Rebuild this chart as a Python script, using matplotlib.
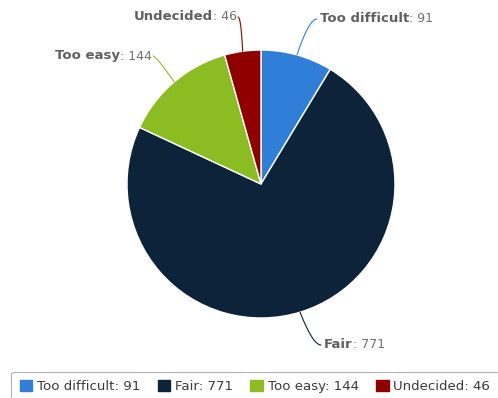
import numpy as np
import matplotlib.pyplot as plt
from matplotlib.patches import Patch

# survey answers
categories = ['Too difficult', 'Fair', 'Too easy', 'Undecided']
counts = [91, 771, 144, 46]
colors = ['#2f7ed8', '#0d233a', '#8bbc21', '#910000']

W, H = 498, 398
fig = plt.figure(figsize=(W / 100, H / 100), dpi=100)
ax = fig.add_axes([0, 0, 1, 1])

cx, cy, r = 261, H - 184, 134
wedges, _ = ax.pie(counts, colors=colors, startangle=90, counterclock=False,
                   center=(cx, cy), radius=r, frame=True,
                   wedgeprops=dict(edgecolor='white', linewidth=1))
ax.set_xlim(0, W)
ax.set_ylim(0, H)
ax.set_aspect('auto')
ax.axis('off')

# label anchors (end of connector) and text alignment per slice
label_pos = [(317, H - 19, 'left'), (321, H - 345, 'left'),
             (153, H - 56, 'right'), (238, H - 17, 'right')]

for w, name, val, col, (lx, ly, ha) in zip(wedges, categories, counts, colors, label_pos):
    mid = np.deg2rad((w.theta1 + w.theta2) / 2)
    ex, ey = cx + r * np.cos(mid), cy + r * np.sin(mid)
    # simple curved connector: bend near the label
    bx = lx - 8 if ha == 'left' else lx + 3
    t = np.linspace(0, 1, 20)
    px = (1 - t) ** 2 * ex + 2 * (1 - t) * t * bx + t ** 2 * lx
    py = (1 - t) ** 2 * ey + 2 * (1 - t) * t * ly + t ** 2 * ly
    ax.plot(px, py, color=col, lw=0.8, solid_capstyle='round')
    tx = lx + 3 if ha == 'left' else lx - 1
    if ha == 'left':
        b = ax.text(tx, ly, name, ha='left', va='center', fontsize=9.5,
                    fontweight='bold', color='#606060')
        ax.annotate(f': {val}', xy=(1, 0.5), xycoords=b, ha='left', va='center',
                    fontsize=9, color='#707070')
    else:
        v = ax.text(tx, ly, f': {val}', ha='right', va='center', fontsize=9,
                    color='#707070')
        ax.annotate(name, xy=(0, 0.5), xycoords=v, ha='right', va='center',
                    fontsize=9.5, fontweight='bold', color='#606060')

handles = [Patch(facecolor=c, edgecolor=c) for c in colors]
labels = [f'{n}: {v}' for n, v in zip(categories, counts)]
leg = ax.legend(handles, labels, ncol=4, loc='lower left',
                bbox_to_anchor=(11 / W, -4 / H), fontsize=9.6,
                frameon=True, fancybox=True, edgecolor='#a0a0a0',
                handlelength=0.95, handleheight=0.85, handletextpad=0.35,
                columnspacing=1.3, borderpad=0.65, borderaxespad=0,
                labelcolor='#3a3a3a')
leg.get_frame().set_linewidth(0.8)

fig.savefig('out.png', dpi=100)
